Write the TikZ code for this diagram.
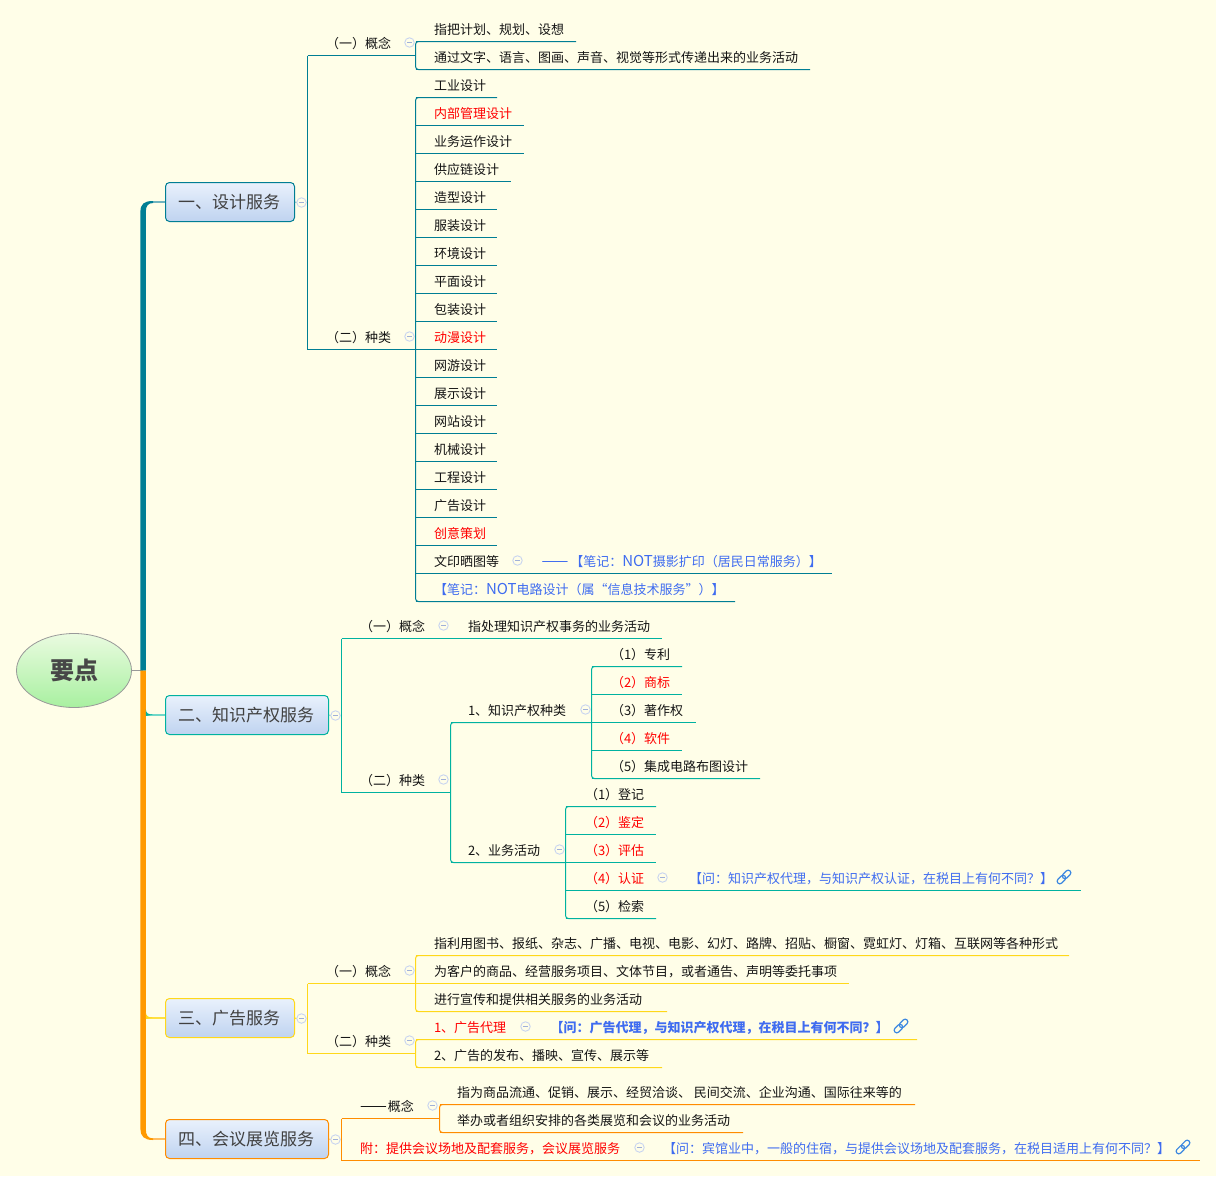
\documentclass[tikz,border=0pt]{standalone}
\usepackage{fontspec}
\setmainfont{Noto Sans CJK SC}
\definecolor{bgc}{HTML}{FFFEE8}
\definecolor{cA}{HTML}{007E94}
\definecolor{cAl}{HTML}{70B4C0}
\definecolor{cB}{HTML}{00B2A0}
\definecolor{cBl}{HTML}{70D8C8}
\definecolor{cC}{HTML}{FFD81A}
\definecolor{cCl}{HTML}{FFE040}
\definecolor{cD}{HTML}{FF8C00}
\definecolor{cDl}{HTML}{FFBC60}
\definecolor{trunkO}{HTML}{FF9900}
\definecolor{noteblue}{HTML}{3F6CF0}
\definecolor{linkblue}{HTML}{3B87E0}
\definecolor{redt}{HTML}{FF0000}
\definecolor{blackt}{HTML}{141414}
\definecolor{boxtop}{HTML}{E9F1FC}
\definecolor{boxbot}{HTML}{BFD3F0}
\definecolor{roottop}{HTML}{EAFBE0}
\definecolor{rootbot}{HTML}{A8F0A0}
\definecolor{colb}{HTML}{C8D4F0}
\definecolor{colm}{HTML}{A0B0D8}
\usetikzlibrary{shapes.geometric}
\tikzset{
  txt/.style={inner sep=0pt,anchor=west,font=\fontsize{13}{13}\selectfont,text height=13pt,text depth=2pt,text=blackt},
  red text/.style={text=redt},
  note text/.style={text=noteblue},
  bold note/.style={text=noteblue,font=\fontsize{13}{13}\selectfont\bfseries},
  plain text/.style={},
  mainbox/.style={draw=#1,rounded corners=4pt,line width=1pt,top color=boxtop,bottom color=boxbot,
    minimum height=39pt,inner sep=0pt,text=black!75,font=\fontsize{17}{17}\selectfont,text height=15pt,text depth=3pt},
  collapse/.style={circle,draw=colb,fill=bgc,line width=0.9pt,minimum size=9.5pt,inner sep=0pt,
    path picture={\draw[colm,line width=0.8pt] ([xshift=-2.5pt]path picture bounding box.center) -- ([xshift=2.5pt]path picture bounding box.center);}},
  root/.style={ellipse,draw=black!40,line width=0.8pt,top color=roottop,bottom color=rootbot},
}
\newcommand\bigdash{{\fontsize{16}{16}\selectfont ——}}
\newcommand\NOTw{{\fontsize{15}{15}\selectfont NOT}}
% name, line start, text x, line end, line y, style, text
\newcommand\tp[7]{%
  \coordinate (#1-l) at (#2+.5,#5+.5);
  \coordinate (#1-r) at (#4,#5+.5);
  \node[txt,#6] (#1) at (#3-.5,#5-12) {#7};
  \draw[br] (#1-l) -- (#1-r);
}
\newcommand\lk[3]{%
  \begin{scope}[shift={(#2,#3)},rotate=45,linkblue,line width=1.2pt]
    \node[inner sep=0pt,minimum size=1pt] (#1) at (0,0) {};
    \draw[rounded corners=2.4pt] (-8.5,-2.6) rectangle (1.2,2.6);
    \draw[rounded corners=2.4pt] (-1.2,-2.6) rectangle (8.5,2.6);
  \end{scope}
}
\begin{document}
\begin{tikzpicture}[x=1pt,y=-1pt,line width=1pt]
\useasboundingbox (0,0) rectangle (1216,1176);
\fill[bgc] (0,0) rectangle (1216,1176);

% main nodes
\node[mainbox=cA,minimum width=129pt] (d1) at (230,202) {\kern-2pt 一、设计服务};
\node[mainbox=cB,minimum width=163pt] (d2) at (247,715) {\kern-2pt 二、知识产权服务};
\node[mainbox=cC,minimum width=129pt] (d3) at (230,1018) {\kern-2pt 三、广告服务};
\node[mainbox=cD,minimum width=163pt] (d4) at (247,1139) {\kern-2pt 四、会议展览服务};
\node[root,minimum width=115pt,minimum height=74pt,inner sep=0pt,text=black!72,font=\fontsize{24}{24}\selectfont\bfseries] (rt) at (74,670.5) {要点};

% trunk
\coordinate (tj) at (143,670.5);
\draw[black!40,line width=0.8pt] (rt.east) -- (tj);
\draw[cAl,line width=2pt] (d1.west) -- (150,202);
\draw[cBl,line width=2pt] (d2.west) -- (146,715);
\draw[cCl,line width=2pt] (d3.west) -- (146,1018);
\draw[cDl,line width=2pt] (d4.west) -- (150,1139);
\fill[cA] (140.4,670.5) -- (140.4,212) .. controls (140.4,204) and (144,201) .. (153,201) -- (153,203) .. controls (148,203) and (145.8,206) .. (145.8,212) -- (145.8,670.5) -- cycle;
\fill[trunkO] (140.4,670.5) -- (140.4,1129) .. controls (140.4,1136) and (144,1140) .. (153,1140) -- (153,1138.4) .. controls (148,1138.4) and (145.8,1135) .. (145.8,1129) -- (145.8,670.5) -- cycle;
\fill[cB] (145.8,709) .. controls (146,713) and (148,714.5) .. (153,714.6) -- (145.8,716) -- cycle;
\fill[cC] (145.8,1012) .. controls (146,1016) and (148,1017.5) .. (153,1017.6) -- (145.8,1019) -- cycle;

%%%%%% Branch 1
\begin{scope}[br/.style={draw=cA}]
\tp{a1}{307}{326}{415}{55}{plain text}{（一）概念}
\tp{a2}{307}{326}{415}{349}{plain text}{（二）种类}
\draw[br] (a1-l) -- (a2-l);
\tp{a11}{415}{434}{576}{41}{plain text}{指把计划、规划、设想}
\tp{a12}{415}{434}{810}{69}{plain text}{通过文字、语言、图画、声音、视觉等形式传递出来的业务活动}
\draw[br,rounded corners=3pt] (a11-r) -- (a11-l) -- (a12-l) -- (a12-r);
\tp{b01}{415}{434}{497}{97}{plain text}{工业设计}
\tp{b02}{415}{434}{524}{125}{red text}{内部管理设计}
\tp{b03}{415}{434}{524}{153}{plain text}{业务运作设计}
\tp{b04}{415}{434}{511}{181}{plain text}{供应链设计}
\tp{b05}{415}{434}{497}{209}{plain text}{造型设计}
\tp{b06}{415}{434}{497}{237}{plain text}{服装设计}
\tp{b07}{415}{434}{497}{265}{plain text}{环境设计}
\tp{b08}{415}{434}{497}{293}{plain text}{平面设计}
\tp{b09}{415}{434}{497}{321}{plain text}{包装设计}
\tp{b10}{415}{434}{497}{349}{red text}{动漫设计}
\tp{b11}{415}{434}{497}{377}{plain text}{网游设计}
\tp{b12}{415}{434}{497}{405}{plain text}{展示设计}
\tp{b13}{415}{434}{497}{433}{plain text}{网站设计}
\tp{b14}{415}{434}{497}{461}{plain text}{机械设计}
\tp{b15}{415}{434}{497}{489}{plain text}{工程设计}
\tp{b16}{415}{434}{497}{517}{plain text}{广告设计}
\tp{b17}{415}{434}{497}{545}{red text}{创意策划}
\tp{b18}{415}{434}{832}{573}{plain text}{文印晒图等}
\tp{b19}{415}{434}{735}{601}{note text}{【笔记：\NOTw 电路设计（属“信息技术服务”）】}
\draw[br,rounded corners=3pt] (b01-r) -- (b01-l) -- (b19-l) -- (b19-r);
\node[txt,note text] (b18n) at (541,561) {\bigdash\hspace{2pt}【笔记：\NOTw 摄影扩印（居民日常服务）】};
\node[collapse] (c1) at (301.5,202.5) {};
\node[collapse] (c2) at (409.5,42.5) {};
\node[collapse] (c3) at (409.5,336.5) {};
\node[collapse] (c4) at (517.5,560.5) {};
\draw[br,draw=cAl] (d1.east) -- (c1.west);
\draw[br] (c1.east) -- (c1.east -| a1-l);
\end{scope}

%%%%%% Branch 2
\begin{scope}[br/.style={draw=cB}]
\tp{e1}{341}{360}{468}{638}{plain text}{（一）概念}
\tp{e11}{462}{468}{662}{638}{plain text}{指处理知识产权事务的业务活动}
\tp{e2}{341}{360}{450}{792}{plain text}{（二）种类}
\draw[br] (e1-l) -- (e2-l);
\tp{f1}{450}{468}{591}{722}{plain text}{1、知识产权种类}
\tp{f2}{450}{468}{565}{862}{plain text}{2、业务活动}
\draw[br,rounded corners=3pt] (f1-r) -- (f1-l) -- (f2-l) -- (f2-r);
\tp{g1}{591}{611}{682}{666}{plain text}{（1）专利}
\tp{g2}{591}{611}{682}{694}{red text}{（2）商标}
\tp{g3}{591}{611}{696}{722}{plain text}{（3）著作权}
\tp{g4}{591}{611}{682}{750}{red text}{（4）软件}
\tp{g5}{591}{611}{760}{778}{plain text}{（5）集成电路布图设计}
\draw[br,rounded corners=3pt] (g1-r) -- (g1-l) -- (g5-l) -- (g5-r);
\tp{h1}{565}{585}{656}{806}{plain text}{（1）登记}
\tp{h2}{565}{585}{656}{834}{red text}{（2）鉴定}
\tp{h3}{565}{585}{656}{862}{red text}{（3）评估}
\tp{h4}{565}{585}{1081}{890}{red text}{（4）认证}
\tp{h5}{565}{585}{656}{918}{plain text}{（5）检索}
\draw[br,rounded corners=3pt] (h1-r) -- (h1-l) -- (h5-l) -- (h5-r);
\node[txt,note text] (h4n) at (688.5,878) {【问：知识产权代理，与知识产权认证，在税目上有何不同？】};
\lk{h4k}{1064}{877}
\node[collapse] (c5) at (335.5,715.5) {};
\node[collapse] (c6) at (443.5,625.5) {};
\node[collapse] (c7) at (443.5,779.5) {};
\node[collapse] (c8) at (585.5,709.5) {};
\node[collapse] (c9) at (559.5,849.5) {};
\node[collapse] (c10) at (662.5,877.5) {};
\draw[br,draw=cBl] (d2.east) -- (c5.west);
\draw[br] (c5.east) -- (c5.east -| e1-l);
\end{scope}

%%%%%% Branch 3
\begin{scope}[br/.style={draw=cC}]
\tp{i1}{307}{326}{415}{983}{plain text}{（一）概念}
\tp{i2}{307}{326}{415}{1053}{plain text}{（二）种类}
\draw[br] (i1-l) -- (i2-l);
\tp{j1}{415}{434}{1069}{955}{plain text}{指利用图书、报纸、杂志、广播、电视、电影、幻灯、路牌、招贴、橱窗、霓虹灯、灯箱、互联网等各种形式}
\tp{j2}{415}{434}{849}{983}{plain text}{为客户的商品、经营服务项目、文体节目，或者通告、声明等委托事项}
\tp{j3}{415}{434}{667}{1011}{plain text}{进行宣传和提供相关服务的业务活动}
\draw[br,rounded corners=3pt] (j1-r) -- (j1-l) -- (j3-l) -- (j3-r);
\tp{k1}{415}{434}{917}{1039}{red text}{1、广告代理}
\tp{k2}{415}{434}{662}{1067}{plain text}{2、广告的发布、播映、宣传、展示等}
\draw[br,rounded corners=3pt] (k1-r) -- (k1-l) -- (k2-l) -- (k2-r);
\node[txt,bold note] (k1n) at (550,1027) {【问：广告代理，与知识产权代理，在税目上有何不同？】};
\lk{k1k}{901}{1026}
\node[collapse] (c11) at (301.5,1018.5) {};
\node[collapse] (c12) at (409.5,970.5) {};
\node[collapse] (c13) at (409.5,1040.5) {};
\node[collapse] (c14) at (525.5,1026.5) {};
\draw[br] (d3.east) -- (c11.west);
\draw[br] (c11.east) -- (c11.east -| i1-l);
\end{scope}

%%%%%% Branch 4
\begin{scope}[br/.style={draw=cD}]
\tp{m1}{341}{360}{439}{1118}{plain text}{\bigdash\hspace{1pt}概念}
\tp{m2}{341}{360}{1200}{1160}{red text}{附：提供会议场地及配套服务，会议展览服务}
\draw[br] (m1-l) -- (m2-l);
\tp{n1}{439}{457}{915}{1104}{plain text}{指为商品流通、促销、展示、经贸洽谈、 民间交流、企业沟通、国际往来等的}
\tp{n2}{439}{457}{743}{1132}{plain text}{举办或者组织安排的各类展览和会议的业务活动}
\draw[br,rounded corners=3pt] (n1-r) -- (n1-l) -- (n2-l) -- (n2-r);
\node[txt,note text] (m2n) at (662.5,1148) {【问：宾馆业中，一般的住宿，与提供会议场地及配套服务，在税目适用上有何不同？】};
\lk{m2k}{1183}{1147}
\node[collapse] (c15) at (335.5,1139.5) {};
\node[collapse] (c16) at (432.5,1105.5) {};
\node[collapse] (c17) at (639.5,1147.5) {};
\draw[br,draw=cDl] (d4.east) -- (c15.west);
\draw[br] (c15.east) -- (c15.east -| m1-l);
\end{scope}
\end{tikzpicture}
\end{document}
